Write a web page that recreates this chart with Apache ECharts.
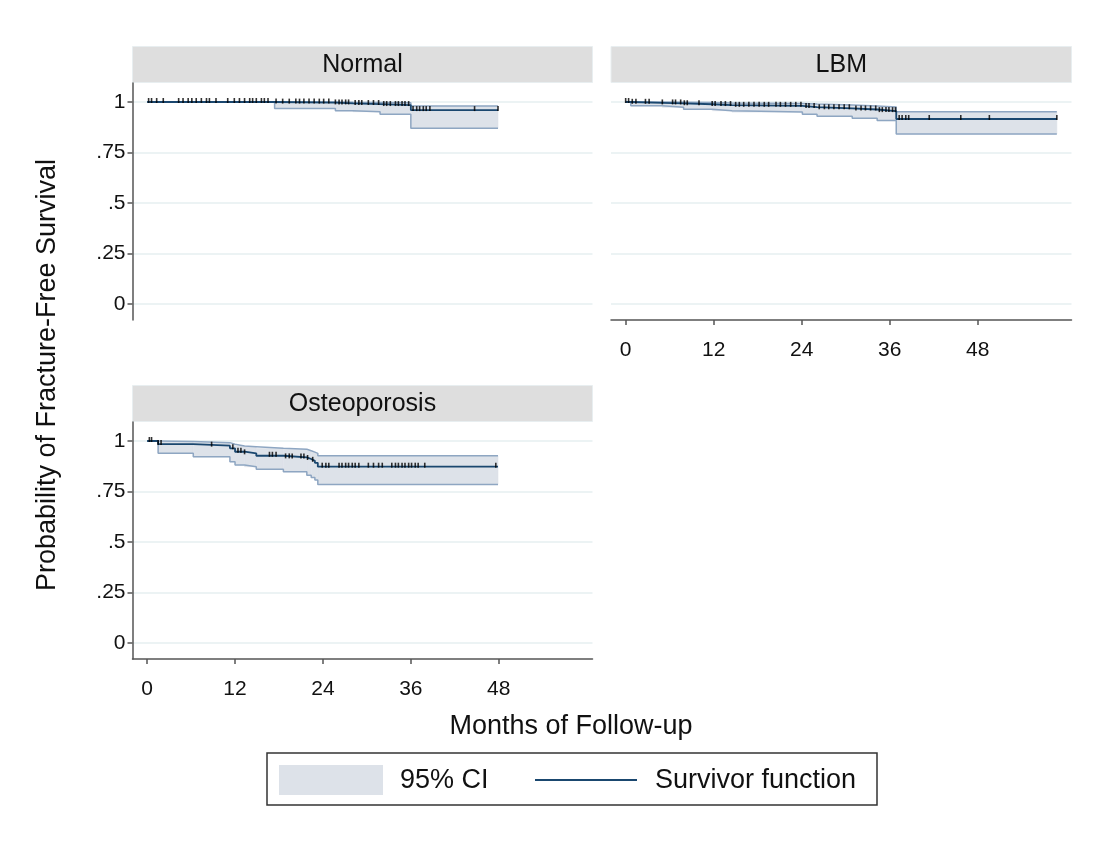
<!DOCTYPE html>
<html><head><meta charset="utf-8">
<script src="https://cdn.jsdelivr.net/npm/echarts@6/dist/echarts.min.js"></script>
<style>html,body{margin:0;padding:0;background:#fff}#c{width:1108px;height:841px}</style>
</head><body><div id="c"></div>
<script>
// ---------- data ----------
const panelNames = ['Normal', 'LBM', 'Osteoporosis'];
const xTickValues = [0, 12, 24, 36, 48];
const yTickValues = [0, 0.25, 0.5, 0.75, 1];
const yTickLabels = ['0', '.25', '.5', '.75', '1'];
const legendLabels = ['95% CI', 'Survivor function'];
const xTitle = 'Months of Follow-up';
const yTitle = 'Probability of Fracture-Free Survival';

// Normal
const normalTime  = [0, 17.4, 25.7, 28.1, 31.8, 36.0, 47.9];
const normalSurv  = [1, 0.997, 0.993, 0.990, 0.985, 0.960, 0.960];
const normalLower = [1, 0.968, 0.957, 0.952, 0.940, 0.870, 0.870];
const normalUpper = [1, 1.000, 0.999, 0.998, 0.996, 0.980, 0.980];
const normalCensor = [0.2, 0.6, 1.3, 2.2, 4.3, 4.9, 5.6, 6.1, 6.7, 7.4, 8.1, 8.5, 9.4, 11.0, 11.9, 12.6, 13.3, 14.0, 14.4, 14.9, 15.6, 16.0, 16.5, 17.6, 18.5, 19.4, 20.3, 20.8, 21.4, 22.1, 22.8, 23.5, 24.1, 24.8, 25.7, 26.2, 26.6, 27.1, 27.5, 28.4, 28.9, 29.3, 30.2, 30.9, 31.6, 32.3, 32.7, 33.2, 33.9, 34.3, 34.8, 35.2, 35.7, 36.3, 36.8, 37.2, 37.7, 38.1, 38.6, 44.7, 47.9];

// LBM
const lbmTime  = [0, 0.7, 5.0, 7.9, 11.8, 14.5, 24.1, 26.1, 30.9, 34.3, 36.9, 58.8];
const lbmSurv  = [1, 0.996, 0.993, 0.989, 0.985, 0.981, 0.975, 0.969, 0.963, 0.955, 0.916, 0.916];
const lbmLower = [1, 0.981, 0.974, 0.964, 0.957, 0.950, 0.940, 0.930, 0.920, 0.908, 0.842, 0.842];
const lbmUpper = [1, 1.000, 0.999, 0.997, 0.995, 0.993, 0.990, 0.985, 0.980, 0.975, 0.952, 0.952];
const lbmCensor = [0.0, 0.4, 0.9, 1.4, 2.7, 3.2, 5.0, 6.4, 6.8, 7.5, 8.0, 8.4, 10.0, 11.8, 12.2, 13.0, 13.6, 14.3, 15.0, 15.5, 16.1, 16.8, 17.5, 18.2, 18.9, 19.5, 20.5, 21.1, 21.8, 22.5, 23.2, 23.9, 24.6, 25.0, 25.7, 26.4, 27.1, 27.7, 28.4, 29.1, 29.8, 30.5, 31.4, 32.1, 32.7, 33.4, 34.1, 34.6, 35.0, 35.5, 35.9, 36.4, 36.8, 37.3, 37.7, 38.2, 38.6, 41.4, 45.7, 49.6, 58.8];

// Osteoporosis
const osteoTime  = [0, 1.5, 6.3, 11.3, 12.0, 13.3, 14.9, 18.6, 21.8, 22.4, 22.9, 23.3, 47.9];
const osteoSurv  = [1, 0.985, 0.977, 0.964, 0.947, 0.939, 0.927, 0.919, 0.911, 0.902, 0.892, 0.873, 0.873];
const osteoLower = [1, 0.939, 0.922, 0.897, 0.881, 0.873, 0.860, 0.848, 0.831, 0.820, 0.807, 0.785, 0.785];
const osteoUpper = [1, 0.997, 0.992, 0.984, 0.975, 0.972, 0.964, 0.959, 0.952, 0.945, 0.939, 0.927, 0.927];
const osteoCensor = [0.3, 0.6, 1.5, 1.9, 8.8, 11.7, 12.4, 12.8, 13.3, 16.7, 17.1, 17.6, 18.9, 19.4, 19.8, 21.0, 21.4, 21.9, 22.6, 23.9, 24.4, 24.8, 26.2, 26.6, 27.1, 27.5, 28.0, 28.4, 28.9, 30.2, 30.9, 31.6, 32.1, 33.4, 33.9, 34.3, 34.8, 35.2, 35.7, 36.1, 36.6, 37.0, 37.9, 47.6];

// ---------- styling / layout ----------
const FONT = '"Liberation Sans", Arial, sans-serif';
const NAVY = '#1a476f';
const CI_LINE = '#8ea6c2';
const CI_FILL = '#dde2e9';
const GRID_LINE = '#e6eff1';
const AXIS_COL = '#555555';
const STRIP = '#dedede';

const groups = [
  {t: normalTime, s: normalSurv, l: normalLower, u: normalUpper, c: normalCensor},
  {t: lbmTime, s: lbmSurv, l: lbmLower, u: lbmUpper, c: lbmCensor},
  {t: osteoTime, s: osteoSurv, l: osteoLower, u: osteoUpper, c: osteoCensor}
];

const grids = [
  {left: 132.5, top: 83, width: 460, height: 237},
  {left: 611, top: 83, width: 460.5, height: 237},
  {left: 132.5, top: 422, width: 460, height: 237}
];
const showYAxis = [true, false, true];
const showXAxis = [false, true, true];

function stepLookup(times, vals, x) {
  let k = 0;
  for (let i = 0; i < times.length; i++) if (times[i] <= x) k = i;
  return vals[k];
}

function renderBand(params, api) {
  const p0 = api.coord([api.value(0), api.value(3)]);
  const p1 = api.coord([api.value(1), api.value(2)]);
  return {
    type: 'rect',
    shape: {x: p0[0], y: p0[1], width: p1[0] - p0[0], height: p1[1] - p0[1]},
    style: {fill: CI_FILL, stroke: CI_FILL, lineWidth: 0.6}
  };
}

const xAxes = [], yAxes = [], series = [];
grids.forEach((g, i) => {
  xAxes.push({
    type: 'value', gridIndex: i, min: -2, max: 60.8,
    axisLine: {show: showXAxis[i], onZero: false, lineStyle: {color: AXIS_COL, width: 1.5}},
    axisTick: {show: showXAxis[i], customValues: xTickValues, length: 5, lineStyle: {color: AXIS_COL, width: 1.5}},
    axisLabel: {show: showXAxis[i], customValues: xTickValues, margin: 20, color: '#111', fontSize: 21, fontFamily: FONT},
    splitLine: {show: false}
  });
  yAxes.push({
    type: 'value', gridIndex: i, min: -0.078, max: 1.094,
    axisLine: {show: showYAxis[i], onZero: false, lineStyle: {color: AXIS_COL, width: 1.5}},
    axisTick: {show: showYAxis[i], customValues: yTickValues, length: 5, lineStyle: {color: AXIS_COL, width: 1.5}},
    axisLabel: {show: showYAxis[i], customValues: yTickValues, margin: 7, color: '#111', fontSize: 21, fontFamily: FONT,
      formatter: v => { const k = yTickValues.findIndex(y => Math.abs(y - v) < 1e-6); return k >= 0 ? yTickLabels[k] : ''; }},
    splitLine: {show: true, lineStyle: {color: GRID_LINE, width: 1.5}}
  });
  const d = groups[i];
  const bandData = [];
  for (let j = 0; j < d.t.length - 1; j++) bandData.push([d.t[j], d.t[j + 1], d.l[j], d.u[j]]);
  series.push({
    type: 'custom', xAxisIndex: i, yAxisIndex: i, renderItem: renderBand,
    encode: {x: [0, 1], y: [2, 3]}, data: bandData, silent: true, z: 1
  });
  series.push({
    type: 'line', xAxisIndex: i, yAxisIndex: i, step: 'end', symbol: 'none',
    data: d.t.map((t, j) => [t, d.l[j]]), lineStyle: {color: CI_LINE, width: 1.5}, silent: true, z: 2
  });
  series.push({
    type: 'line', xAxisIndex: i, yAxisIndex: i, step: 'end', symbol: 'none',
    data: d.t.map((t, j) => [t, d.u[j]]), lineStyle: {color: CI_LINE, width: 1.5}, silent: true, z: 2
  });
  series.push({
    type: 'line', xAxisIndex: i, yAxisIndex: i, step: 'end', symbol: 'none',
    data: d.t.map((t, j) => [t, d.s[j]]), lineStyle: {color: NAVY, width: 1.8}, silent: true, z: 3
  });
  series.push({
    type: 'scatter', xAxisIndex: i, yAxisIndex: i, symbol: 'rect', symbolSize: [1.6, 5], symbolOffset: [0, -1.5],
    data: d.c.map(t => [t, stepLookup(d.t, d.s, t)]), itemStyle: {color: '#000'}, silent: true, z: 4
  });
});

const graphics = [];
const strips = [
  {x: 132.5, y: 46.5, w: 460, h: 36, label: panelNames[0]},
  {x: 611, y: 46.5, w: 460.5, h: 36, label: panelNames[1]},
  {x: 132.5, y: 385.5, w: 460, h: 36, label: panelNames[2]}
];
strips.forEach(s => {
  graphics.push({type: 'rect', shape: {x: s.x, y: s.y, width: s.w, height: s.h},
    style: {fill: STRIP, stroke: '#e8eef0', lineWidth: 1}, silent: true});
  graphics.push({type: 'text', x: s.x + s.w / 2, y: s.y + s.h / 2 + 1,
    style: {text: s.label, fill: '#111', font: '25px ' + FONT, textAlign: 'center', textVerticalAlign: 'middle'}, silent: true});
});
graphics.push({type: 'text', x: 571, y: 727,
  style: {text: xTitle, fill: '#111', font: '27px ' + FONT, textAlign: 'center', textVerticalAlign: 'middle'}});
graphics.push({type: 'text', x: 48, y: 375, rotation: Math.PI / 2,
  style: {text: yTitle, fill: '#111', font: '27px ' + FONT, textAlign: 'center', textVerticalAlign: 'middle'}});
graphics.push({type: 'rect', shape: {x: 267, y: 753, width: 610, height: 52},
  style: {fill: '#fff', stroke: '#333', lineWidth: 1.5}});
graphics.push({type: 'rect', shape: {x: 279, y: 765, width: 104, height: 30}, style: {fill: CI_FILL}});
graphics.push({type: 'text', x: 400, y: 781,
  style: {text: legendLabels[0], fill: '#111', font: '27px ' + FONT, textAlign: 'left', textVerticalAlign: 'middle'}});
graphics.push({type: 'line', shape: {x1: 535, y1: 780, x2: 637, y2: 780}, style: {stroke: NAVY, lineWidth: 2}});
graphics.push({type: 'text', x: 655, y: 781,
  style: {text: legendLabels[1], fill: '#111', font: '27px ' + FONT, textAlign: 'left', textVerticalAlign: 'middle'}});

const chart = echarts.init(document.getElementById('c'), null, {renderer: 'canvas'});
chart.setOption({
  backgroundColor: '#ffffff',
  animation: false,
  grid: grids.map(g => Object.assign({containLabel: false, outerBoundsMode: 'none'}, g)),
  xAxis: xAxes,
  yAxis: yAxes,
  series: series,
  graphic: graphics
});
</script></body></html>
